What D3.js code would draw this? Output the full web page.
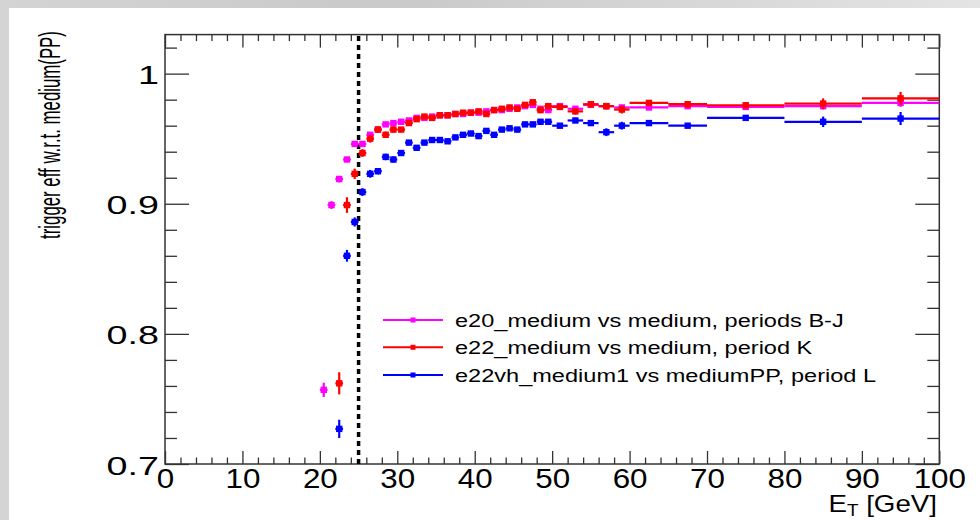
<!DOCTYPE html>
<html lang="en">
<head>
<meta charset="UTF-8">
<title>Trigger efficiency vs ET</title>
<script src="https://d3js.org/d3.v7.min.js"></script>
<style>
  body { margin: 0; background: #fff; }
  svg { display: block; font-family: "Liberation Sans", Arial, sans-serif; }
</style>
</head>
<body>
<svg id="chart"></svg>
<script>
var width = 980, height = 520;

// bins in E_T [GeV]
var binLow  = [20,21,22,23,24,25,26,27,28,29,30,31,32,33,34,35,36,37,38,39,
               40,41,42,43,44,45,46,47,48,49,50,52,54,56,58,60,65,70,80,90];
var binHigh = [21,22,23,24,25,26,27,28,29,30,31,32,33,34,35,36,37,38,39,40,
               41,42,43,44,45,46,47,48,49,50,52,54,56,58,60,65,70,80,90,100];

// e20_medium vs medium, periods B-J
var effBJ = [0.757,0.899,0.919,0.934,0.946,0.946,0.953,0.957,0.961,0.962,
             0.963,0.964,0.966,0.966,0.967,0.968,0.968,0.969,0.969,0.970,
             0.970,0.971,0.972,0.972,0.973,0.974,0.975,0.976,0.973,0.972,
             0.975,0.973,0.976,0.975,0.974,0.974,0.975,0.9744,0.975,0.9775];
var errBJ = [0.0055,0.003,0.0025,0.002,0.002,0.002,0.0018,0.0018,0.0015,0.0015,
             0.0015,0.0015,0.0015,0.0015,0.0015,0.0015,0.0015,0.0015,0.0015,0.0015,
             0.0015,0.0015,0.0015,0.0015,0.0015,0.0015,0.0015,0.0015,0.0018,0.0018,
             0.0015,0.0018,0.0018,0.002,0.002,0.0015,0.002,0.002,0.0025,0.003];

// e22_medium vs medium, period K
var effK = [null,null,0.762,0.899,0.923,0.939,0.950,0.957,0.953,0.957,
            0.957,0.962,0.965,0.967,0.966,0.968,0.968,0.969,0.970,0.970,
            0.971,0.969,0.972,0.973,0.974,0.973,0.976,0.978,0.972,0.975,
            0.9744,0.971,0.9765,0.975,0.9724,0.9775,0.9765,0.9757,0.977,0.981];
var errK = [null,null,0.0085,0.006,0.004,0.003,0.003,0.0025,0.0025,0.0025,
            0.002,0.002,0.002,0.002,0.002,0.002,0.002,0.002,0.002,0.002,
            0.002,0.002,0.002,0.002,0.002,0.002,0.002,0.002,0.0025,0.0025,
            0.002,0.0025,0.0025,0.0025,0.003,0.002,0.0025,0.0025,0.004,0.005];

// e22vh_medium1 vs mediumPP, period L
var effL = [null,null,0.727,0.860,0.886,0.909,0.923,0.925,0.936,0.934,
            0.939,0.947,0.943,0.947,0.949,0.949,0.948,0.951,0.953,0.954,
            0.952,0.956,0.953,0.957,0.958,0.957,0.961,0.961,0.963,0.963,
            0.960,0.964,0.962,0.955,0.960,0.962,0.960,0.966,0.963,0.9655];
var errL = [null,null,0.007,0.0045,0.0035,0.003,0.003,0.0025,0.0025,0.0025,
            0.002,0.002,0.002,0.002,0.002,0.002,0.002,0.002,0.002,0.002,
            0.002,0.002,0.002,0.002,0.002,0.002,0.002,0.002,0.002,0.002,
            0.002,0.002,0.002,0.003,0.003,0.002,0.002,0.002,0.004,0.005];

var seriesNames = ["e20_medium vs medium, periods B-J",
                   "e22_medium vs medium, period K",
                   "e22vh_medium1 vs mediumPP, period L"];
var seriesColors = ["#ff00ff", "#ff0000", "#0000ff"];

var xMajor = [0,10,20,30,40,50,60,70,80,90,100];
var xMinor = [2,4,6,8,12,14,16,18,22,24,26,28,32,34,36,38,42,44,46,48,
              52,54,56,58,62,64,66,68,72,74,76,78,82,84,86,88,92,94,96,98];
var yMajor = [0.7,0.8,0.9,1.0];
var yMajorLabels = ["0.7","0.8","0.9","1"];
var yMinor = [0.72,0.74,0.76,0.78,0.82,0.84,0.86,0.88,0.92,0.94,0.96,0.98,1.02];
var cutValue = 25;

var svg = d3.select("#chart").attr("width", width).attr("height", height);

// backdrop of the slide
var defs = svg.append("defs");
var bgGrad = defs.append("linearGradient").attr("id", "bg")
    .attr("x1", "0%").attr("x2", "100%").attr("y1", "0%").attr("y2", "0%");
bgGrad.append("stop").attr("offset", "0%").attr("stop-color", "#d4d4d4");
bgGrad.append("stop").attr("offset", "40%").attr("stop-color", "#c9c9c9");
bgGrad.append("stop").attr("offset", "100%").attr("stop-color", "#e4e4e4");
svg.append("rect").attr("width", width).attr("height", height).attr("fill", "url(#bg)");
svg.append("rect").attr("x", 9).attr("y", 8).attr("width", width - 9).attr("height", height - 8)
    .attr("fill", "#fff");

var x = d3.scaleLinear().domain([0, 100]).range([165, 939.3]);
var y = d3.scaleLinear().domain([0.7, 1.03]).range([464, 34.6]);

var axisColor = "#333";

function styleAxis(g) {
    g.select(".domain").remove();
    g.selectAll(".tick line").attr("stroke", axisColor).attr("stroke-width", 1.3);
}

// bottom axis
var gxb = svg.append("g").attr("transform", "translate(0," + y(0.7) + ")")
    .call(d3.axisBottom(x).tickValues(xMajor).tickSize(-13).tickPadding(4))
    .call(styleAxis);
gxb.selectAll("text").attr("font-size", 28.5).attr("fill", "#000")
    .attr("font-family", "Liberation Sans, Arial, sans-serif")
    .attr("transform", "scale(1.1,1)");
svg.append("g").attr("transform", "translate(0," + y(0.7) + ")")
    .call(d3.axisBottom(x).tickValues(xMinor).tickSize(-6.5).tickFormat(""))
    .call(styleAxis);

// top axis
svg.append("g").attr("transform", "translate(0," + y(1.03) + ")")
    .call(d3.axisTop(x).tickValues(xMajor).tickSize(-13).tickFormat(""))
    .call(styleAxis);
svg.append("g").attr("transform", "translate(0," + y(1.03) + ")")
    .call(d3.axisTop(x).tickValues(xMinor).tickSize(-6.5).tickFormat(""))
    .call(styleAxis);

// left axis
var gyl = svg.append("g").attr("transform", "translate(" + x(0) + ",0)")
    .call(d3.axisLeft(y).tickValues(yMajor).tickSize(-24)
        .tickFormat(function(d, i) { return yMajorLabels[i]; }))
    .call(styleAxis);
gyl.selectAll("text").attr("font-size", 26).attr("fill", "#000")
    .attr("font-family", "Liberation Sans, Arial, sans-serif")
    .attr("x", 0).attr("dy", null)
    .attr("transform", "translate(-6,10) scale(1.45,1)");
svg.append("g").attr("transform", "translate(" + x(0) + ",0)")
    .call(d3.axisLeft(y).tickValues(yMinor).tickSize(-12).tickFormat(""))
    .call(styleAxis);

// right axis
svg.append("g").attr("transform", "translate(" + x(100) + ",0)")
    .call(d3.axisRight(y).tickValues(yMajor).tickSize(-24).tickFormat(""))
    .call(styleAxis);
svg.append("g").attr("transform", "translate(" + x(100) + ",0)")
    .call(d3.axisRight(y).tickValues(yMinor).tickSize(-12).tickFormat(""))
    .call(styleAxis);

// frame
svg.append("rect").attr("x", x(0)).attr("y", y(1.03))
    .attr("width", x(100) - x(0)).attr("height", y(0.7) - y(1.03))
    .attr("fill", "none").attr("stroke", axisColor).attr("stroke-width", 1.5);

// threshold line
svg.append("line").attr("x1", x(cutValue)).attr("x2", x(cutValue))
    .attr("y1", y(0.7)).attr("y2", y(1.03))
    .attr("stroke", "#000").attr("stroke-width", 3.5).attr("stroke-dasharray", "5,4");

// data series
function drawSeries(vals, errs, color) {
    var pts = [];
    for (var i = 0; i < vals.length; i++) {
        if (vals[i] === null) continue;
        pts.push({lo: binLow[i], hi: binHigh[i], v: vals[i], e: errs[i]});
    }
    var g = svg.append("g");
    g.selectAll("line.h").data(pts).enter().append("line")
        .attr("x1", function(d) { return x(d.lo); })
        .attr("x2", function(d) { return x(d.hi); })
        .attr("y1", function(d) { return y(d.v); })
        .attr("y2", function(d) { return y(d.v); })
        .attr("stroke", color).attr("stroke-width", 2.2);
    g.selectAll("line.v").data(pts).enter().append("line")
        .attr("x1", function(d) { return x((d.lo + d.hi) / 2); })
        .attr("x2", function(d) { return x((d.lo + d.hi) / 2); })
        .attr("y1", function(d) { return y(d.v - d.e); })
        .attr("y2", function(d) { return y(d.v + d.e); })
        .attr("stroke", color).attr("stroke-width", 2.2);
    g.selectAll("rect").data(pts).enter().append("rect")
        .attr("x", function(d) { return x((d.lo + d.hi) / 2) - 3.2; })
        .attr("y", function(d) { return y(d.v) - 3.2; })
        .attr("width", 6.4).attr("height", 6.4)
        .attr("fill", color);
}
drawSeries(effBJ, errBJ, seriesColors[0]);
drawSeries(effK, errK, seriesColors[1]);
drawSeries(effL, errL, seriesColors[2]);

// legend
var legendY = [320, 347.3, 375];
var lg = svg.append("g");
seriesNames.forEach(function(name, i) {
    lg.append("line").attr("x1", 383).attr("x2", 443)
        .attr("y1", legendY[i]).attr("y2", legendY[i])
        .attr("stroke", seriesColors[i]).attr("stroke-width", 2);
    lg.append("rect").attr("x", 410.5).attr("y", legendY[i] - 2.5)
        .attr("width", 5).attr("height", 5).attr("fill", seriesColors[i]);
    lg.append("text").attr("transform", "translate(455," + (legendY[i] + 7) + ") scale(1.24,1)")
        .attr("font-size", 19).attr("fill", "#000").text(name);
});

// axis titles
var xt = svg.append("text").attr("transform", "translate(937,512) scale(1.18,1)")
    .attr("text-anchor", "end").attr("font-size", 23.5).attr("fill", "#000");
xt.append("tspan").text("E");
xt.append("tspan").attr("font-size", 16).attr("dy", 4).text("T");
xt.append("tspan").attr("dy", -4).text(" [GeV]");

svg.append("text")
    .attr("transform", "translate(50,135) rotate(-90) scale(0.82,1.45)")
    .attr("text-anchor", "middle").attr("dy", "0.35em")
    .attr("font-size", 20.5)
    .attr("fill", "#000").text("trigger eff w.r.t. medium(PP)");
</script>
</body>
</html>
